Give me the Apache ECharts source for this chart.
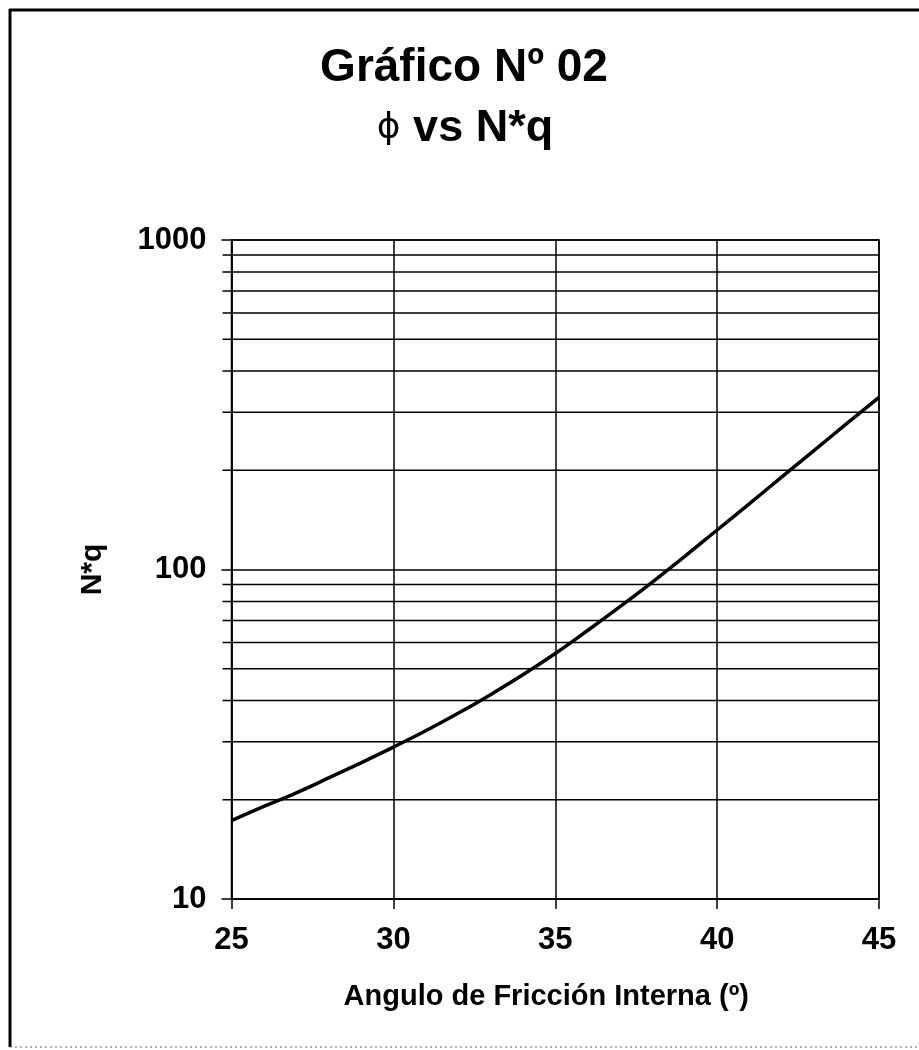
<!DOCTYPE html>
<html>
<head>
<meta charset="utf-8">
<script src="https://cdn.jsdelivr.net/npm/echarts@6/dist/echarts.min.js"></script>
<style>
html,body{margin:0;padding:0;background:#fff;}
#chart{width:919px;height:1050px;}
</style>
</head>
<body>
<div id="chart"></div>
<script>
// Data
var phiValues = [25, 26, 27, 28, 29, 30, 31, 32, 33, 34, 35, 36, 37, 38, 39, 40, 41, 42, 43, 44, 45];
var nqValues  = [17.3, 19.1, 21.0, 23.3, 25.9, 28.9, 32.4, 36.6, 41.7, 47.9, 55.6, 65.3, 77.1, 91.6, 109.6, 131.8, 158.5, 191, 230, 277, 333];
var xTicks = [25, 30, 35, 40, 45];
var yMajor = [10, 100, 1000];
var yMinor = [20, 30, 40, 50, 60, 70, 80, 90, 200, 300, 400, 500, 600, 700, 800, 900];

var FONT = '"Liberation Sans", Arial, sans-serif';
var chart = echarts.init(document.getElementById('chart'), null, {renderer: 'canvas'});

var lineData = phiValues.map(function (p, i) { return [p, nqValues[i]]; });
var minorData = yMinor.map(function (v) { return [xTicks[0], v]; });

chart.setOption({
  backgroundColor: '#fff',
  animation: false,
  graphic: [
    {type: 'line', shape: {x1: 10, y1: 9, x2: 10, y2: 1047}, style: {stroke: '#000', lineWidth: 3}},
    {type: 'line', shape: {x1: 9, y1: 10, x2: 919, y2: 10}, style: {stroke: '#000', lineWidth: 3}},
    {type: 'line', shape: {x1: 10, y1: 1047, x2: 919, y2: 1047}, style: {stroke: '#666', lineWidth: 1, lineDash: [2, 3]}},
    {type: 'text', x: 464, y: 68, style: {text: 'Gráfico Nº 02', font: 'bold 46px ' + FONT, fill: '#000', textAlign: 'center', textVerticalAlign: 'middle'}},
    {type: 'text', x: 465, y: 129, style: {
      text: '{p|ϕ}{b| vs N*q}',
      textAlign: 'center', textVerticalAlign: 'middle',
      rich: {
        p: {font: '36px "DejaVu Sans", sans-serif', fill: '#000'},
        b: {font: 'bold 45px ' + FONT, fill: '#000'}
      }
    }}
  ],
  grid: {left: 231.5, right: 40, top: 240, bottom: 151, show: true, borderColor: '#000', borderWidth: 1.5, backgroundColor: 'transparent'},
  xAxis: {
    type: 'value', min: 25, max: 45, interval: 5,
    name: 'Angulo de Fricción Interna (º)', nameLocation: 'middle', nameGap: 83,
    nameTextStyle: {fontFamily: FONT, fontWeight: 'bold', fontSize: 29, color: '#000', padding: [0, 18, 0, 0]},
    axisLine: {show: true, lineStyle: {color: '#000', width: 1.5}},
    axisTick: {show: true, length: 10, lineStyle: {color: '#000', width: 1.5}},
    axisLabel: {fontFamily: FONT, fontWeight: 'bold', fontSize: 31, color: '#000', margin: 26},
    splitLine: {show: true, lineStyle: {color: '#000', width: 1.5}}
  },
  yAxis: {
    type: 'log', logBase: 10, min: 10, max: 1000,
    name: 'N*q', nameLocation: 'middle', nameGap: 124, nameRotate: 90,
    nameTextStyle: {fontFamily: FONT, fontWeight: 'bold', fontSize: 30, color: '#000'},
    axisLine: {show: true, lineStyle: {color: '#000', width: 1.5}},
    axisTick: {show: true, length: 10, lineStyle: {color: '#000', width: 1.5}},
    axisLabel: {fontFamily: FONT, fontWeight: 'bold', fontSize: 31, color: '#000', margin: 25,
      formatter: function (v) { return String(Math.round(v)); }},
    splitLine: {show: true, lineStyle: {color: '#000', width: 1.5}}
  },
  series: [
    {
      type: 'custom',
      silent: true,
      clip: false,
      encode: {x: 0, y: 1},
      data: minorData,
      renderItem: function (params, api) {
        var v = api.value(1);
        var p1 = api.coord([xTicks[0], v]);
        var p2 = api.coord([xTicks[xTicks.length - 1], v]);
        return {type: 'line', shape: {x1: p1[0] - 9, y1: p1[1], x2: p2[0], y2: p2[1]}, style: {stroke: '#000', lineWidth: 1.5}};
      },
      z: 1
    },
    {
      type: 'line',
      data: lineData,
      smooth: 0.4,
      showSymbol: false,
      symbol: 'none',
      lineStyle: {color: '#000', width: 3.5},
      z: 5
    }
  ]
});
</script>
</body>
</html>
